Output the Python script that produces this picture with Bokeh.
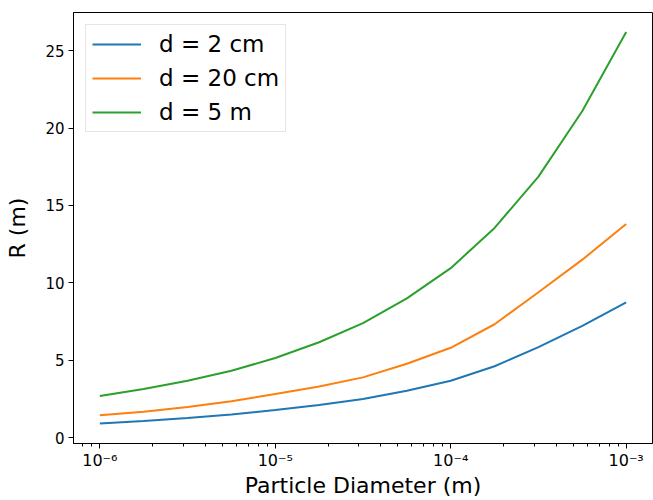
from bokeh.plotting import figure
from bokeh.models import Range1d, FixedTicker, CustomJSTickFormatter
from bokeh.embed import file_html
from bokeh.resources import INLINE

# Particle diameter (m), quarter-decade samples
diameter = [1.0e-6, 1.778e-6, 3.162e-6, 5.623e-6, 1.0e-5, 1.778e-5, 3.162e-5,
            5.623e-5, 1.0e-4, 1.778e-4, 3.162e-4, 5.623e-4, 1.0e-3]
r_2cm = [0.92, 1.08, 1.28, 1.51, 1.79, 2.11, 2.50, 3.03, 3.68, 4.62, 5.85, 7.22, 8.74]
r_20cm = [1.46, 1.68, 1.98, 2.36, 2.83, 3.31, 3.90, 4.78, 5.81, 7.33, 9.40, 11.50, 13.80]
r_5m = [2.70, 3.15, 3.68, 4.33, 5.15, 6.17, 7.40, 9.00, 10.95, 13.55, 16.86, 21.10, 26.20]

series_labels = ["d = 2 cm", "d = 20 cm", "d = 5 m"]
series_colors = ["#1f77b4", "#ff7f0e", "#2ca02c"]

x_ticks = [1e-6, 1e-5, 1e-4, 1e-3]
x_tick_labels = ["10\u207b\u2076", "10\u207b\u2075", "10\u207b\u2074", "10\u207b\u00b3"]
x_minor_ticks = [m * 10.0 ** e for e in (-7, -6, -5, -4) for m in range(2, 10)]
y_ticks = [0, 5, 10, 15, 20, 25]

p = figure(width=653, height=500, x_axis_type="log",
           x_range=Range1d(10 ** -6.15, 10 ** -2.85), y_range=Range1d(-0.37, 27.46),
           output_backend="svg", toolbar_location=None,
           min_border_left=73, min_border_top=12, min_border_right=1, min_border_bottom=57)

for ys, lab, col in zip([r_2cm, r_20cm, r_5m], series_labels, series_colors):
    p.line(diameter, ys, line_color=col, line_width=2, legend_label=lab)

p.xgrid.grid_line_color = None
p.ygrid.grid_line_color = None
p.outline_line_color = "black"
p.outline_line_width = 1
p.outline_line_alpha = 1.0

p.xaxis.ticker = FixedTicker(ticks=x_ticks, minor_ticks=x_minor_ticks)
p.xaxis.formatter = CustomJSTickFormatter(args=dict(tvals=x_ticks, tlabels=x_tick_labels), code="""
let best = 0, bd = Infinity;
for (let i = 0; i < tvals.length; i++) {
  const d = Math.abs(Math.log10(tvals[i]) - Math.log10(tick));
  if (d < bd) { bd = d; best = i; }
}
return tlabels[best];
""")
p.yaxis.ticker = FixedTicker(ticks=y_ticks)

for ax in (p.xaxis, p.yaxis):
    ax.axis_line_color = "black"
    ax.major_tick_line_color = "black"
    ax.minor_tick_line_color = "black"
    ax.major_tick_in = 0
    ax.major_tick_out = 5
    ax.minor_tick_in = 0
    ax.minor_tick_out = 3
    ax.major_label_text_font = "DejaVu Sans"
    ax.major_label_text_font_size = "15px"
    ax.major_label_text_color = "black"
    ax.axis_label_text_font = "DejaVu Sans"
    ax.axis_label_text_font_size = "22px"
    ax.axis_label_text_font_style = "normal"
    ax.axis_label_text_color = "black"
p.xaxis.major_label_text_font_size = "16px"
p.yaxis.minor_tick_line_color = None
p.xaxis.major_label_standoff = 2
p.xaxis.axis_label_standoff = 0
p.yaxis.major_label_standoff = 4
p.yaxis.axis_label_standoff = 12
p.xaxis.axis_label = "Particle Diameter (m)"
p.yaxis.axis_label = "R (m)"

lg = p.legend[0]
lg.location = "top_left"
lg.margin = 12
lg.padding = 6
lg.spacing = 8
lg.label_height = 26
lg.glyph_height = 26
lg.glyph_width = 49
lg.label_standoff = 18
lg.label_text_font = "DejaVu Sans"
lg.label_text_font_size = "23px"
lg.label_text_color = "black"
lg.border_line_color = "#cccccc"
lg.border_line_width = 1
lg.background_fill_alpha = 0.8

open("out.html", "w").write(file_html(p, INLINE))
